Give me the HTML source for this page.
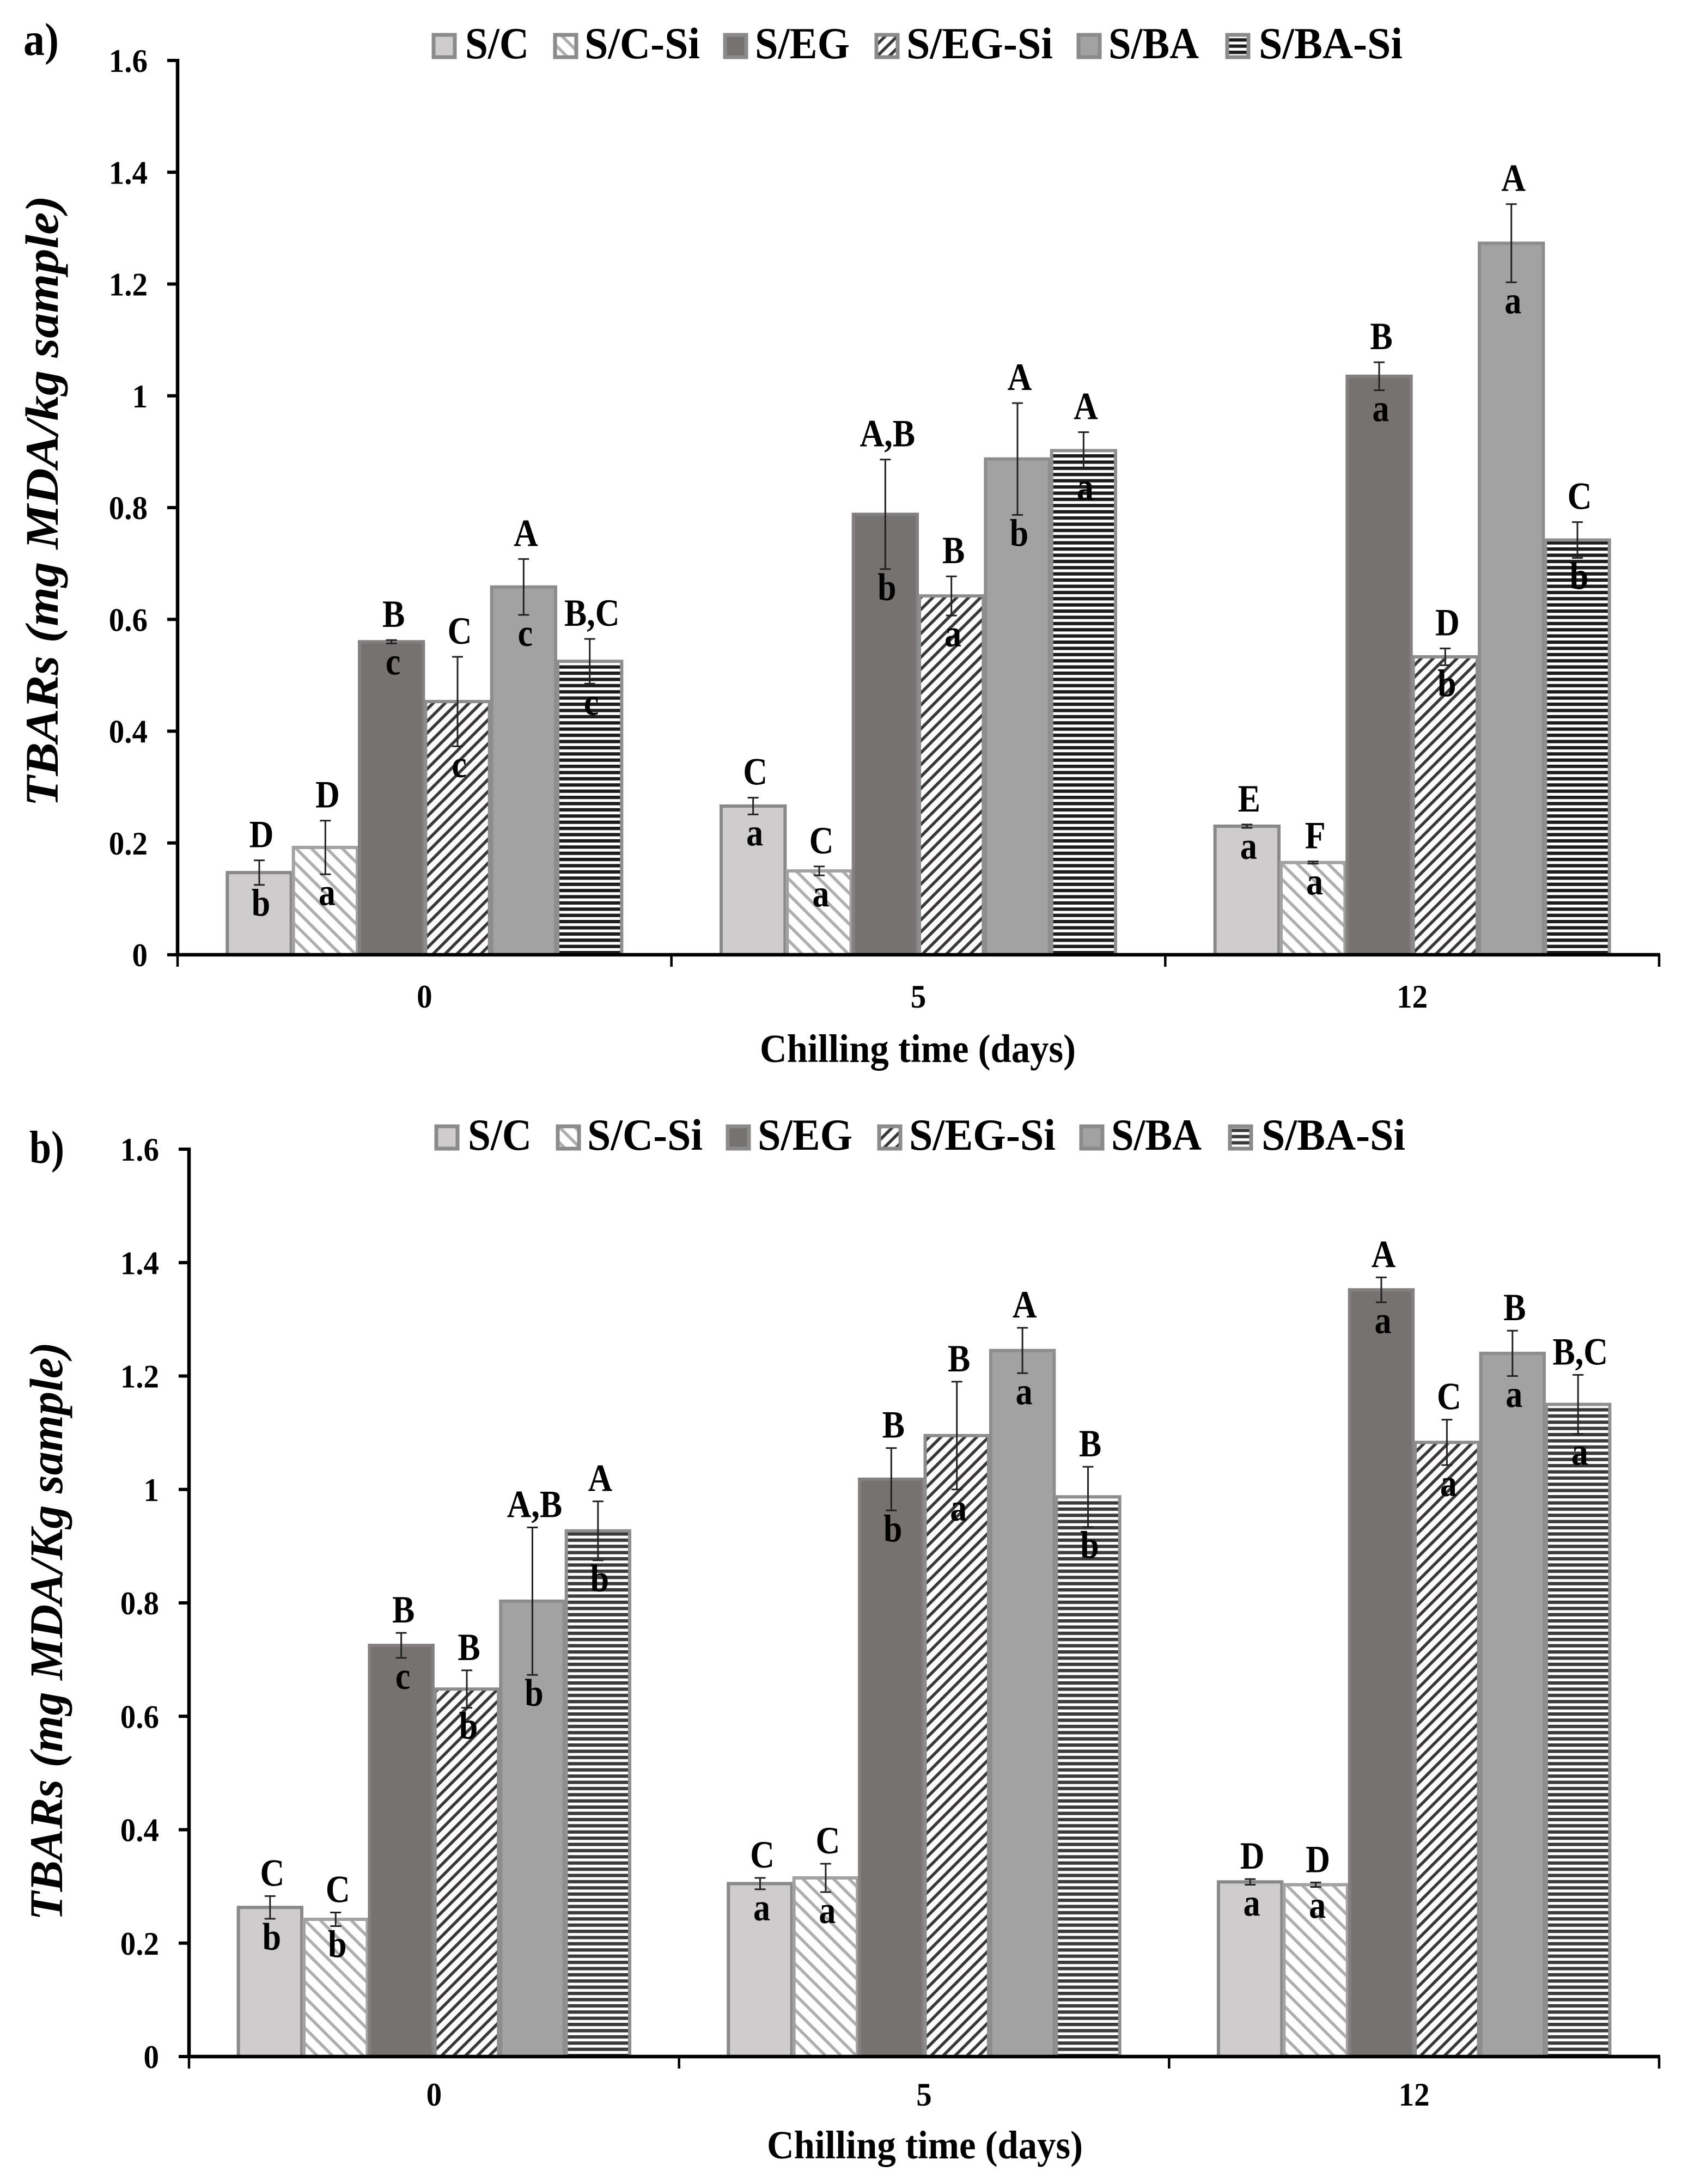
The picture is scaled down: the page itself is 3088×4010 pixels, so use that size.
<!DOCTYPE html>
<html lang="en">
<head>
<meta charset="utf-8">
<title>TBARs during chilling</title>
<style>
html,body{margin:0;padding:0;background:#fff;}
svg{display:block;}
text{font-family:"Liberation Serif",serif;font-weight:bold;fill:#000;}
</style>
</head>
<body>
<svg id="figure" xmlns="http://www.w3.org/2000/svg" width="3088" height="4010" viewBox="0 0 3088 4010">
  <defs>
    <pattern id="hatch-light" patternUnits="userSpaceOnUse" width="20" height="20" patternTransform="rotate(-45)">
      <rect width="20" height="20" fill="#ffffff"/>
      <rect x="0" y="0" width="5.5" height="20" fill="#afadad"/>
    </pattern>
    <pattern id="hatch-dark" patternUnits="userSpaceOnUse" width="15.5" height="15.5" patternTransform="rotate(45)">
      <rect width="15.5" height="15.5" fill="#ffffff"/>
      <rect x="0" y="0" width="5.5" height="15.5" fill="#3a3838"/>
    </pattern>
    <pattern id="stripes-a" patternUnits="userSpaceOnUse" width="20" height="11.4" patternTransform="translate(0,1.8)">
      <rect width="20" height="11.4" fill="#ffffff"/>
      <rect x="0" y="0" width="20" height="6.2" fill="#1c1c1c"/>
    </pattern>
    <pattern id="stripes-b" patternUnits="userSpaceOnUse" width="20" height="11.4" patternTransform="translate(0,9)">
      <rect width="20" height="11.4" fill="#ffffff"/>
      <rect x="0" y="0" width="20" height="6.2" fill="#3c3b3b"/>
    </pattern>
  </defs>
</svg>
<script>
// ---- chart data ----
const categories = ["0", "5", "12"];
const seriesNames = ["S/C", "S/C-Si", "S/EG", "S/EG-Si", "S/BA", "S/BA-Si"];
const tickValues = [0, 0.2, 0.4, 0.6, 0.8, 1, 1.2, 1.4, 1.6];

// rows = series, columns = chilling day
const panelAMeans = [
  [0.147, 0.266, 0.230],
  [0.192, 0.150, 0.165],
  [0.560, 0.788, 1.035],
  [0.453, 0.642, 0.533],
  [0.658, 0.887, 1.273],
  [0.525, 0.902, 0.742]
];
const panelAErrors = [
  [0.022, 0.015, 0.003],
  [0.048, 0.008, 0.002],
  [0.003, 0.098, 0.025],
  [0.080, 0.035, 0.015],
  [0.050, 0.100, 0.070],
  [0.040, 0.033, 0.032]
];
const panelAUpperLetters = [
  ["D", "C", "E"],
  ["D", "C", "F"],
  ["B", "A,B", "B"],
  ["C", "B", "D"],
  ["A", "A", "A"],
  ["B,C", "A", "C"]
];
const panelALowerLetters = [
  ["b", "a", "a"],
  ["a", "a", "a"],
  ["c", "b", "a"],
  ["c", "a", "b"],
  ["c", "b", "a"],
  ["c", "a", "b"]
];

const panelBMeans = [
  [0.263, 0.305, 0.308],
  [0.242, 0.315, 0.303],
  [0.725, 1.018, 1.352],
  [0.648, 1.095, 1.083],
  [0.803, 1.245, 1.240],
  [0.927, 0.987, 1.150]
];
const panelBErrors = [
  [0.020, 0.010, 0.005],
  [0.012, 0.025, 0.004],
  [0.022, 0.055, 0.022],
  [0.033, 0.095, 0.040],
  [0.130, 0.040, 0.040],
  [0.052, 0.053, 0.052]
];
const panelBUpperLetters = [
  ["C", "C", "D"],
  ["C", "C", "D"],
  ["B", "B", "A"],
  ["B", "B", "C"],
  ["A,B", "A", "B"],
  ["A", "B", "B,C"]
];
const panelBLowerLetters = [
  ["b", "a", "a"],
  ["b", "a", "a"],
  ["c", "b", "a"],
  ["b", "a", "a"],
  ["b", "a", "a"],
  ["b", "b", "a"]
];

// ---- drawing ----
const svgNS = "http://www.w3.org/2000/svg";
const root = document.getElementById("figure");
const yMax = 1.6;
const seriesFills = ["#cecccd", "url(#hatch-light)", "#767272", "url(#hatch-dark)", "#a2a2a2", null];
const seriesStrokes = ["#898989", "#a3a2a2", "#828080", "#8d8d8d", "#8d8d8d", "#8f8f8f"];
const legendSwatchLeft = [793, 1016, 1328, 1606, 1977, 2250];
const legendTextOffset = [61, 57, 58, 58, 58, 61];
const legendTextWidth = [117, 212, 174, 269, 166, 264];

function shape(parent, tag, attrs, name, interactable) {
  const el = document.createElementNS(svgNS, tag);
  for (const k in attrs) el.setAttribute(k, attrs[k]);
  
  
  parent.appendChild(el);
  return el;
}

function label(parent, str, x, y, size, anchor, stretch, name, length) {
  const attrs = {
    "transform": "translate(" + x + "," + y + ") scale(1," + stretch + ")",
    "text-anchor": anchor,
    "font-size": size
  };
  if (length) {
    attrs.textLength = length;
    attrs.lengthAdjust = "spacingAndGlyphs";
  }
  const el = shape(parent, "text", attrs, name, false);
  el.textContent = str;
  return el;
}

function drawPanel(p) {
  const g = shape(root, "g", {}, p.name, false);
  const y = v => p.y0 - (v / yMax) * (p.y0 - p.yTop);
  const groupW = (p.x1 - p.x0) / categories.length;
  const gap = groupW * 0.0985;
  const barW = (groupW - 2 * gap) / seriesNames.length;
  const barX = (c, s) => p.x0 + c * groupW + gap + s * barW;

  // panel letter
  label(g, p.letter, p.letterX, p.letterY, 76, "start", 1.12, "panel-label", p.letterW);

  // legend
  const legend = shape(g, "g", {}, "legend", false);
  seriesNames.forEach((nm, s) => {
    const sx = legendSwatchLeft[s] + p.legendDx;
    const fill = seriesFills[s] || p.stripeFill;
    shape(legend, "rect", {
      x: sx + 3, y: p.legendBase - 43, width: 39, height: 41,
      fill: fill, stroke: "#8b8b8b", "stroke-width": 7
    }, "legend-swatch", false);
    label(legend, nm, sx + legendTextOffset[s], p.legendBase, 76, "start", 1.08, "legend-entry", legendTextWidth[s]);
  });

  // bars
  seriesNames.forEach((nm, s) => {
    categories.forEach((cat, c) => {
      const top = y(p.means[s][c]);
      shape(g, "rect", {
        x: barX(c, s) + 2, y: top, width: barW - 4, height: p.y0 - top,
        fill: seriesFills[s] || p.stripeFill,
        stroke: seriesStrokes[s], "stroke-width": 6
      }, "bar-series-" + s + "-day-" + cat, false);
    });
  });

  // axes
  shape(g, "line", { x1: p.x0, y1: p.yTop - 3, x2: p.x0, y2: p.y0 + 3, stroke: "#000", "stroke-width": 6.5 }, "y-axis-line", false);
  shape(g, "line", { x1: p.x0 - 3, y1: p.y0, x2: p.x1 + 2, y2: p.y0, stroke: "#000", "stroke-width": 6.5 }, "x-axis-line", false);
  tickValues.forEach(v => {
    shape(g, "line", { x1: p.x0 - 19, y1: y(v), x2: p.x0, y2: y(v), stroke: "#000", "stroke-width": 6 }, "y-axis-tick", false);
    label(g, String(v), p.x0 - 55, y(v) + 21, 57, "end", 1.06, "y-tick-label");
  });
  for (let c = 0; c <= categories.length; c++) {
    const tx = p.x0 + c * groupW;
    shape(g, "line", { x1: tx, y1: p.y0, x2: tx, y2: p.y0 + 22, stroke: "#000", "stroke-width": 4.5 }, "x-axis-tick", false);
  }
  categories.forEach((cat, c) => {
    label(g, cat, p.x0 + (c + 0.5) * groupW, p.catBase, 57, "middle", 1.06, "x-tick-label");
  });

  // error bars and letters
  seriesNames.forEach((nm, s) => {
    categories.forEach((cat, c) => {
      const cx = barX(c, s) + barW / 2;
      const hi = y(p.means[s][c] + p.errors[s][c]);
      const lo = y(p.means[s][c] - p.errors[s][c]);
      shape(g, "line", { x1: cx, y1: hi, x2: cx, y2: lo, stroke: "#222", "stroke-width": 3 }, "error-bar", false);
      shape(g, "line", { x1: cx - 10, y1: hi, x2: cx + 10, y2: hi, stroke: "#222", "stroke-width": 3 }, "error-cap-upper", false);
      shape(g, "line", { x1: cx - 10, y1: lo, x2: cx + 10, y2: lo, stroke: "#222", "stroke-width": 3 }, "error-cap-lower", false);
      label(g, p.upper[s][c], cx + 4, hi - p.upperGap, 62, "middle", 1.14, "significance-upper");
      label(g, p.lower[s][c], cx + 3, lo + 57, 62, "middle", 1.14, "significance-lower");
    });
  });

  // axis titles
  label(g, "Chilling time (days)", p.xTitleX, p.xTitleBase, 64, "middle", 1.14, "x-axis-title", 580);
  const yt = shape(g, "text", {
    "transform": "translate(" + p.yTitleX + "," + p.yTitleY + ") rotate(-90)",
    "text-anchor": "middle",
    "font-size": 86,
    "font-style": "italic",
    "textLength": p.yTitleLen,
    "lengthAdjust": "spacingAndGlyphs"
  }, "y-axis-title", false);
  yt.textContent = p.yTitle;
}

drawPanel({
  name: "chart-panel-a", letter: "a)", letterX: 43, letterY: 101, letterW: 65,
  x0: 326, x1: 3046, y0: 1753, yTop: 111, upperGap: 24,
  means: panelAMeans, errors: panelAErrors, upper: panelAUpperLetters, lower: panelALowerLetters,
  stripeFill: "url(#stripes-a)", legendDx: 0, legendBase: 107, catBase: 1850,
  xTitleX: 1685, xTitleBase: 1950,
  yTitle: "TBARs (mg MDA/kg sample)", yTitleX: 106, yTitleY: 920, yTitleLen: 1122
});

drawPanel({
  name: "chart-panel-b", letter: "b)", letterX: 54, letterY: 2135, letterW: 64,
  x0: 347, x1: 3046, y0: 3776, yTop: 2110, upperGap: 19,
  means: panelBMeans, errors: panelBErrors, upper: panelBUpperLetters, lower: panelBLowerLetters,
  stripeFill: "url(#stripes-b)", legendDx: 5, legendBase: 2111, catBase: 3866,
  xTitleX: 1698, xTitleBase: 3963,
  yTitle: "TBARs (mg MDA/Kg sample)", yTitleX: 114, yTitleY: 2995, yTitleLen: 1062
});
</script>
</body>
</html>
